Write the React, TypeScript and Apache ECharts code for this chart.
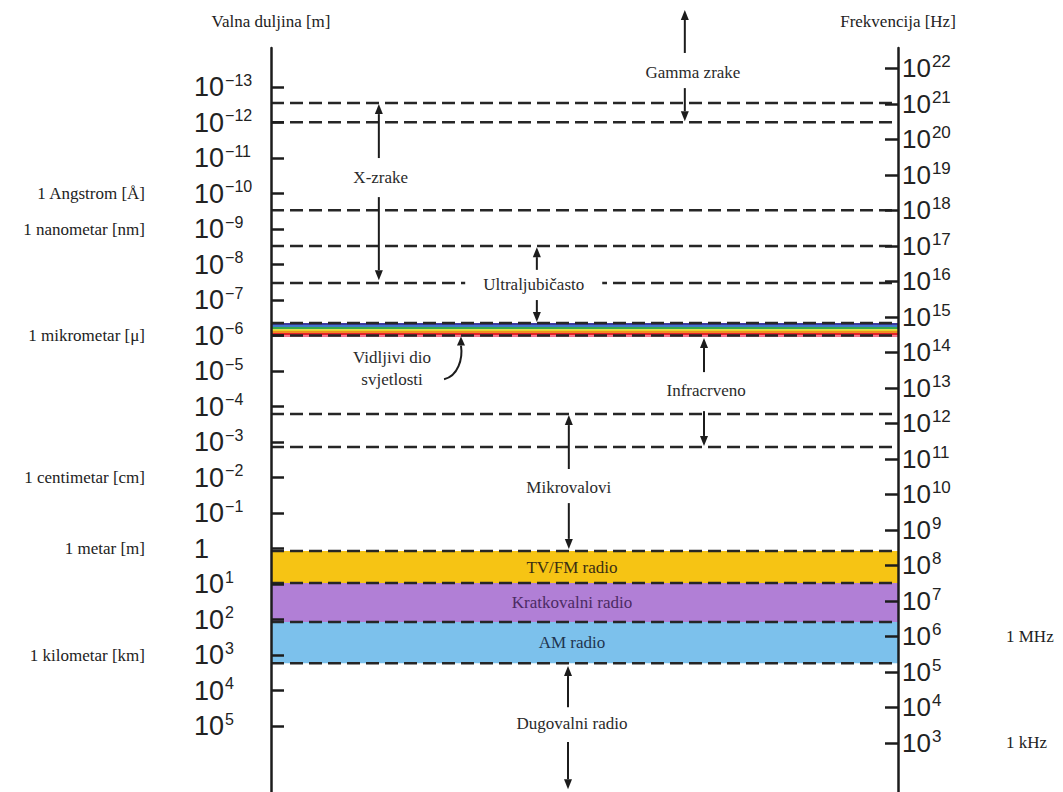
import React, { useEffect, useRef } from 'react';
import * as echarts from 'echarts';

// ---- data (all vertical values are log10 of wavelength in metres) ----
const wavelengthExponents = [-13, -12, -11, -10, -9, -8, -7, -6, -5, -4, -3, -2, -1, 0, 1, 2, 3, 4, 5];
const frequencyExponents = [3, 4, 5, 6, 7, 8, 9, 10, 11, 12, 13, 14, 15, 16, 17, 18, 19, 20, 21, 22];
const wavelengthUnitValues = [-10, -9, -6, -2, 0, 3];
const wavelengthUnitNames = ['1 Angstrom [Å]', '1 nanometar [nm]', '1 mikrometar [μ]', '1 centimetar [cm]', '1 metar [m]', '1 kilometar [km]'];
const frequencyUnitValues = [6, 3];
const frequencyUnitNames = ['1 MHz', '1 kHz'];
const LOG_C = Math.log10(2.998e8); // f = c / λ

const Y_MIN = -14.1;
const Y_MAX = 6.858;

const boundaries = [-12.55, -12.01, -9.53, -8.52, -7.48, -6.35, -6.0, -3.79, -2.86, 0.07, 0.97, 2.07, 3.23];

const bandNames = ['TV/FM radio', 'Kratkovalni radio', 'AM radio'];
const bandFrom = [0.07, 0.97, 2.07];
const bandTo = [0.97, 2.07, 3.23];
const bandColors = ['#f6c414', '#b17fd6', '#7cc1ec'];
const bandTextColors = ['#3b2e12', '#4b2a63', '#1f3550'];

const visibleFrom = [-6.35, -6.30, -6.24, -6.18, -6.13, -6.07, -6.0];
const visibleTo = [-6.30, -6.24, -6.18, -6.13, -6.07, -6.0, -5.96];
const visibleColors = ['#3f3a9c', '#3e78cc', '#37a84c', '#e6d62a', '#f0901e', '#e6242a', '#f2708c'];

const regionNames = ['Gamma zrake', 'X-zrake', 'Ultraljubičasto', 'Vidljivi dio\nsvjetlosti', 'Infracrveno', 'Mikrovalovi', 'Dugovalni radio'];
const regionX = [0.673, 0.175, 0.419, 0.193, 0.694, 0.475, 0.48];
const regionY = [-13.42, -10.46, -7.45, -5.07, -4.46, -1.73, 4.92];

// arrows: [x, from, tip]
const arrowX = [0.66, 0.66, 0.172, 0.172, 0.424, 0.424, 0.6906, 0.6906, 0.475, 0.475, 0.4737, 0.4737];
const arrowFrom = [-13.96, -12.97, -11.0, -9.9, -7.85, -7.0, -4.97, -3.87, -2.24, -1.28, 4.47, 5.45];
const arrowTip = [-15.17, -12.04, -12.52, -7.56, -8.49, -6.38, -5.93, -2.89, -3.76, 0.01, 3.31, 6.78];

// curved pointer for visible light: [startX, startY, tipX, tipY]
const pointer = [[0.276, -4.77, 0.303, -5.97]];

const SERIF = 'Liberation Serif, Times New Roman, serif';
const SANS = 'Liberation Sans, Arial, sans-serif';
const INK = '#1c1c1c';
const TXT = 17;

function arrowHead(x2: number, y2: number, ux: number, uy: number, hl: number, hw: number) {
  const bx = x2 - ux * hl;
  const by = y2 - uy * hl;
  return {
    base: [bx, by],
    points: [[x2, y2], [bx - uy * hw, by + ux * hw], [bx + uy * hw, by - ux * hw]],
  };
}

function supLabel(v: number) {
  if (v === 0) return '{b|1}';
  const e = v < 0 ? '−' + Math.abs(v) : String(v);
  return '{b|10}{s|' + e + '}';
}

const leftRich = {
  b: { fontFamily: SANS, fontSize: 27, color: '#222', lineHeight: 30 },
  s: { fontFamily: SANS, fontSize: 16, color: '#222', lineHeight: 18, verticalAlign: 'top', padding: [0, 0, 0, 1] },
};
const rightRich = {
  b: { fontFamily: SANS, fontSize: 26, color: '#222', lineHeight: 30 },
  s: { fontFamily: SANS, fontSize: 17, color: '#222', lineHeight: 18, verticalAlign: 'top', padding: [0, 0, 0, 1] },
};

function buildOption(): any {
  return {
    animation: false,
    backgroundColor: '#ffffff',
    textStyle: { fontFamily: SERIF },
    grid: { left: 271, right: 165, top: 48, bottom: 0, containLabel: false, outerBoundsMode: 'none' },
    xAxis: { type: 'value', min: 0, max: 1, show: false },
    yAxis: [
      {
        type: 'value',
        position: 'left',
        inverse: true,
        min: Y_MIN,
        max: Y_MAX,
        z: 5,
        name: 'Valna duljina [m]',
        nameLocation: 'start',
        nameGap: 18,
        nameTextStyle: { fontFamily: SERIF, fontSize: TXT, color: '#222' },
        axisLine: { show: true, onZero: false, lineStyle: { color: INK, width: 2.5 } },
        axisTick: { show: true, inside: true, length: 13, lineStyle: { color: INK, width: 2.5 }, customValues: wavelengthExponents },
        axisLabel: { show: true, customValues: wavelengthExponents, align: 'left', margin: 77, formatter: (v: number) => supLabel(v), rich: leftRich },
        splitLine: { show: false },
      },
      {
        type: 'value',
        position: 'right',
        min: LOG_C - Y_MAX,
        max: LOG_C - Y_MIN,
        z: 5,
        name: 'Frekvencija [Hz]',
        nameLocation: 'end',
        nameGap: 18,
        nameTextStyle: { fontFamily: SERIF, fontSize: TXT, color: '#222' },
        axisLine: { show: true, onZero: false, lineStyle: { color: INK, width: 2.5 } },
        axisTick: { show: true, inside: true, length: 13, lineStyle: { color: INK, width: 2.5 }, customValues: frequencyExponents },
        axisLabel: { show: true, customValues: frequencyExponents, align: 'left', margin: 4, formatter: (v: number) => supLabel(v), rich: rightRich },
        splitLine: { show: false },
      },
      {
        type: 'value',
        position: 'left',
        offset: 0,
        inverse: true,
        min: Y_MIN,
        max: Y_MAX,
        axisLine: { show: false },
        axisTick: { show: false },
        splitLine: { show: false },
        axisLabel: {
          show: true,
          customValues: wavelengthUnitValues,
          align: 'right',
          margin: 126,
          fontFamily: SERIF,
          fontSize: TXT,
          color: '#222',
          formatter: (v: number) => wavelengthUnitNames[wavelengthUnitValues.indexOf(v)] || '',
        },
      },
      {
        type: 'value',
        position: 'right',
        offset: 0,
        min: LOG_C - Y_MAX,
        max: LOG_C - Y_MIN,
        axisLine: { show: false },
        axisTick: { show: false },
        splitLine: { show: false },
        axisLabel: {
          show: true,
          customValues: frequencyUnitValues,
          align: 'left',
          margin: 108,
          fontFamily: SERIF,
          fontSize: TXT,
          color: '#222',
          formatter: (v: number) => frequencyUnitNames[frequencyUnitValues.indexOf(v)] || '',
        },
      },
    ],
    series: [
      {
        type: 'custom',
        name: 'bands',
        silent: true,
        clip: false,
        z: 1,
        data: bandFrom.map((v, i) => [0, v, bandTo[i]]),
        renderItem: (params: any, api: any) => {
          const i = params.dataIndex;
          const p0 = api.coord([0, api.value(1)]);
          const p1 = api.coord([1, api.value(2)]);
          const mid = api.coord([0.48, (api.value(1) + api.value(2)) / 2]);
          return {
            type: 'group',
            children: [
              { type: 'rect', shape: { x: p0[0], y: p0[1], width: p1[0] - p0[0], height: p1[1] - p0[1] }, style: { fill: bandColors[i] } },
              {
                type: 'text',
                x: mid[0],
                y: mid[1],
                style: { text: bandNames[i], fill: bandTextColors[i], fontSize: TXT, fontFamily: SERIF, align: 'center', verticalAlign: 'middle' },
              },
            ],
          };
        },
      },
      {
        type: 'custom',
        name: 'visible',
        silent: true,
        clip: false,
        z: 1,
        data: visibleFrom.map((v, i) => [0, v, visibleTo[i]]),
        renderItem: (params: any, api: any) => {
          const i = params.dataIndex;
          const p0 = api.coord([0, api.value(1)]);
          const p1 = api.coord([1, api.value(2)]);
          return { type: 'rect', shape: { x: p0[0], y: p0[1], width: p1[0] - p0[0], height: p1[1] - p0[1] }, style: { fill: visibleColors[i] } };
        },
      },
      {
        type: 'custom',
        name: 'boundaries',
        silent: true,
        clip: false,
        z: 2,
        data: boundaries.map((v) => [0, v]),
        renderItem: (params: any, api: any) => {
          const a = api.coord([0, api.value(1)]);
          const b = api.coord([1, api.value(1)]);
          return {
            type: 'line',
            shape: { x1: a[0], y1: a[1], x2: b[0], y2: b[1] },
            style: { stroke: '#262626', lineWidth: 2.5, lineDash: [13, 6] },
          };
        },
      },
      {
        type: 'custom',
        name: 'arrows',
        silent: true,
        clip: false,
        z: 3,
        data: arrowX.map((x, i) => [x, arrowFrom[i], arrowTip[i]]),
        renderItem: (params: any, api: any) => {
          const s = api.coord([api.value(0), api.value(1)]);
          const t = api.coord([api.value(0), api.value(2)]);
          const dx = t[0] - s[0];
          const dy = t[1] - s[1];
          const L = Math.hypot(dx, dy) || 1;
          const h = arrowHead(t[0], t[1], dx / L, dy / L, 10, 4);
          return {
            type: 'group',
            children: [
              { type: 'line', shape: { x1: s[0], y1: s[1], x2: h.base[0], y2: h.base[1] }, style: { stroke: INK, lineWidth: 2 } },
              { type: 'polygon', shape: { points: h.points }, style: { fill: INK } },
            ],
          };
        },
      },
      {
        type: 'custom',
        name: 'pointer',
        silent: true,
        clip: false,
        z: 3,
        data: pointer,
        renderItem: (params: any, api: any) => {
          const s = api.coord([api.value(0), api.value(1)]);
          const t = api.coord([api.value(2), api.value(3)]);
          const h = arrowHead(t[0], t[1], 0, -1, 9, 4);
          return {
            type: 'group',
            children: [
              {
                type: 'bezierCurve',
                shape: {
                  x1: s[0], y1: s[1],
                  cpx1: s[0] + 14, cpy1: s[1] - 3,
                  cpx2: t[0] + 2, cpy2: t[1] + 22,
                  x2: h.base[0], y2: h.base[1],
                },
                style: { stroke: INK, lineWidth: 2, fill: null },
              },
              { type: 'polygon', shape: { points: h.points }, style: { fill: INK } },
            ],
          };
        },
      },
      {
        type: 'custom',
        name: 'regions',
        silent: true,
        clip: false,
        z: 4,
        data: regionX.map((x, i) => [x, regionY[i]]),
        renderItem: (params: any, api: any) => {
          const i = params.dataIndex;
          const p = api.coord([api.value(0), api.value(1)]);
          const breaksLine = regionNames[i] === 'Ultraljubičasto';
          return {
            type: 'text',
            x: p[0],
            y: p[1],
            style: {
              text: regionNames[i],
              fill: '#2a2a2a',
              fontSize: TXT,
              fontFamily: SERIF,
              lineHeight: 22,
              align: 'center',
              verticalAlign: 'middle',
              backgroundColor: breaksLine ? '#ffffff' : undefined,
              padding: breaksLine ? [2, 18, 2, 18] : 0,
            },
          };
        },
      },
    ],
  };
}

export default function App() {
  const ref = useRef<HTMLDivElement>(null);
  useEffect(() => {
    if (!ref.current) return;
    const chart = echarts.init(ref.current, null, { renderer: 'svg' });
    chart.setOption(buildOption());
    return () => chart.dispose();
  }, []);
  return (
    <div
      ref={ref}
      style={{ position: 'absolute', left: 0, top: 0, width: 1063, height: 792, background: '#ffffff' }}
    />
  );
}
